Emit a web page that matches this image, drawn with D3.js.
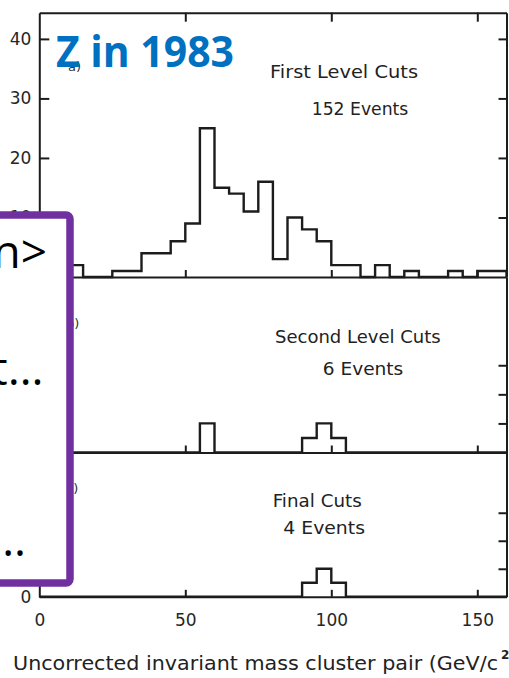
<!DOCTYPE html>
<html>
<head>
<meta charset="utf-8">
<script src="https://cdn.jsdelivr.net/npm/d3@7"></script>
<style>
  html, body { margin: 0; padding: 0; background: #fff; }
  svg { display: block; }
</style>
</head>
<body>
<svg id="chart" width="509" height="678"></svg>
<script>
// Event counts in 5 GeV/c^2 bins of cluster-pair invariant mass, 0 to 160
const binWidth = 5;
const massDomain = [0, 160];
const firstLevelCounts = [0, 0, 2, 0, 0, 1, 1, 4, 4, 6, 9, 25, 15, 14, 11, 16,
                          3, 10, 8, 6, 2, 2, 0, 2, 0, 1, 0, 0, 1, 0, 1, 1];
const secondLevelCounts = [0, 0, 0, 0, 0, 0, 0, 0, 0, 0, 0, 2, 0, 0, 0, 0,
                           0, 0, 1, 2, 1, 0, 0, 0, 0, 0, 0, 0, 0, 0, 0, 0];
const finalCutCounts = [0, 0, 0, 0, 0, 0, 0, 0, 0, 0, 0, 0, 0, 0, 0, 0,
                        0, 0, 1, 2, 1, 0, 0, 0, 0, 0, 0, 0, 0, 0, 0, 0];

const massTicks = [0, 50, 100, 150];
const frameMassTicks = [50, 100, 150];
const topCountTicks = [10, 20, 30, 40];
const lowerCountTicks = [2, 4, 6];
const bottomCountTicks = [0];

const panelLetters = ["a)", "b)", "c)"];
const panelTitles = ["First Level Cuts", "Second Level Cuts", "Final Cuts"];
const panelEventLabels = ["152 Events", "6 Events", "4 Events"];
const axisTitle = "Uncorrected invariant mass cluster pair (GeV/c";
const axisTitleExponent = "2";
const headline = "Z in 1983";
const calloutLines = ["n>", "t…", "…"];

const INK = "#1c1c1c";
const PLOT_FONT = "'DejaVu Sans', sans-serif";

const svg = d3.select("#chart");

const x = d3.scaleLinear().domain(massDomain).range([39.3, 506.5]);

// three stacked panels sharing the mass axis
const panels = [
  { counts: firstLevelCounts, top: 12.7, base: 277, max: 44.4,
    leftTicks: topCountTicks, labelled: true,
    letter: { x: 68, y: 71 },
    title: { x: 270, y: 78, w: 148 }, events: { x: 311.7, y: 115, w: 96.6 } },
  { counts: secondLevelCounts, top: 277, base: 452.5, max: 12.07,
    leftTicks: lowerCountTicks, labelled: false,
    letter: { x: 66, y: 328 },
    title: { x: 275, y: 343, w: 165.7 }, events: { x: 322.7, y: 375, w: 80.6 } },
  { counts: finalCutCounts, top: 452.5, base: 596.8, max: 10.3,
    leftTicks: lowerCountTicks, labelled: false,
    letter: { x: 66, y: 493 },
    title: { x: 272.7, y: 506.5, w: 89 }, events: { x: 283.3, y: 534, w: 81.7 } }
];

function styleAxis(g, width) {
  g.selectAll(".domain").attr("stroke", INK).attr("stroke-width", width);
  g.selectAll(".tick line").attr("stroke", INK).attr("stroke-width", 2);
  g.selectAll("text")
    .attr("fill", "#262626")
    .attr("font-family", PLOT_FONT)
    .attr("font-size", 17);
}

panels.forEach((p, i) => {
  const y = d3.scaleLinear().domain([0, p.max]).range([p.base, p.top]);

  // histogram outline
  const pts = [{ m: massDomain[0], c: 0 }]
    .concat(p.counts.map((c, k) => ({ m: massDomain[0] + k * binWidth, c })))
    .concat([{ m: massDomain[1], c: p.counts[p.counts.length - 1] },
             { m: massDomain[1], c: 0 }]);
  const line = d3.line()
    .x(d => x(d.m))
    .y(d => y(d.c))
    .curve(d3.curveStepAfter);
  svg.append("path")
    .datum(pts)
    .attr("d", line)
    .attr("fill", "none")
    .attr("stroke", INK)
    .attr("stroke-width", 2.4)
    .attr("stroke-linejoin", "miter");

  // left count axis (ticks inward)
  const left = svg.append("g")
    .attr("transform", `translate(${x(massDomain[0])},0)`)
    .call(d3.axisLeft(y)
      .tickValues(i === 2 ? lowerCountTicks.concat(bottomCountTicks) : p.leftTicks)
      .tickSizeInner(-10).tickSizeOuter(0).tickPadding(8)
      .tickFormat(d => (p.labelled || d === 0) ? d : ""));
  styleAxis(left, 2);
  left.selectAll(".tick").filter(d => d === 0).select("line").remove();

  // right count axis (ticks inward, no labels)
  const right = svg.append("g")
    .attr("transform", `translate(${x(massDomain[1])},0)`)
    .call(d3.axisRight(y)
      .tickValues(p.leftTicks)
      .tickSizeInner(-8).tickSizeOuter(0)
      .tickFormat(""));
  styleAxis(right, 2);

  // baseline of the panel with upward mass ticks
  const base = svg.append("g")
    .attr("transform", `translate(0,${p.base})`)
    .call(d3.axisBottom(x)
      .tickValues(i === 2 ? massTicks : frameMassTicks)
      .tickSizeInner(-7).tickSizeOuter(0).tickPadding(17)
      .tickFormat(i === 2 ? d3.format("d") : ""));
  styleAxis(base, 2);
  if (i === 2) base.selectAll(".tick").filter(d => d === 0).select("line").remove();

  // panel letter and captions
  svg.append("text")
    .attr("x", p.letter.x).attr("y", p.letter.y)
    .attr("font-family", PLOT_FONT).attr("font-size", 13)
    .attr("fill", "#333")
    .text(panelLetters[i]);
  svg.append("text")
    .attr("x", p.title.x).attr("y", p.title.y)
    .attr("font-family", PLOT_FONT).attr("font-size", 17.5)
    .attr("textLength", p.title.w).attr("lengthAdjust", "spacingAndGlyphs")
    .attr("fill", "#222")
    .text(panelTitles[i]);
  svg.append("text")
    .attr("x", p.events.x).attr("y", p.events.y)
    .attr("font-family", PLOT_FONT).attr("font-size", 17.5)
    .attr("textLength", p.events.w).attr("lengthAdjust", "spacingAndGlyphs")
    .attr("fill", "#222")
    .text(panelEventLabels[i]);
});

// top frame with downward mass ticks
const topFrame = svg.append("g")
  .attr("transform", `translate(0,${panels[0].top})`)
  .call(d3.axisTop(x)
    .tickValues(frameMassTicks)
    .tickSizeInner(-9).tickSizeOuter(0)
    .tickFormat(""));
styleAxis(topFrame, 2);

// mass axis title with the c^2 exponent
svg.append("text")
  .attr("x", 13).attr("y", 670)
  .attr("font-family", PLOT_FONT).attr("font-size", 19)
  .attr("textLength", 485).attr("lengthAdjust", "spacingAndGlyphs")
  .attr("fill", "#222")
  .text(axisTitle);
svg.append("text")
  .attr("x", 501).attr("y", 658.5)
  .attr("font-family", PLOT_FONT).attr("font-size", 12).attr("font-weight", "bold")
  .attr("fill", "#222")
  .text(axisTitleExponent);

// headline
svg.append("text")
  .attr("x", 56).attr("y", 66.7)
  .attr("font-family", "'Open Sans', sans-serif")
  .attr("font-weight", 700).attr("font-size", 43)
  .attr("textLength", 178).attr("lengthAdjust", "spacingAndGlyphs")
  .attr("fill", "#0070C0")
  .text(headline);

// callout box overlapping the left edge
const callout = svg.append("g");
callout.append("rect")
  .attr("x", -30).attr("y", 215)
  .attr("width", 100).attr("height", 368)
  .attr("rx", 4)
  .attr("fill", "#fff")
  .attr("stroke", "#7030A0")
  .attr("stroke-width", 7.5);
const calloutPos = [{ x: 47, y: 268 }, { x: 43.5, y: 385 }, { x: 26, y: 556 }];
callout.selectAll("text.callout")
  .data(calloutLines)
  .join("text")
  .attr("class", "callout")
  .attr("x", (d, k) => calloutPos[k].x)
  .attr("y", (d, k) => calloutPos[k].y)
  .attr("text-anchor", "end")
  .attr("font-family", "'Open Sans', sans-serif")
  .attr("font-size", 46)
  .attr("fill", "#000")
  .text(d => d);
</script>
</body>
</html>
